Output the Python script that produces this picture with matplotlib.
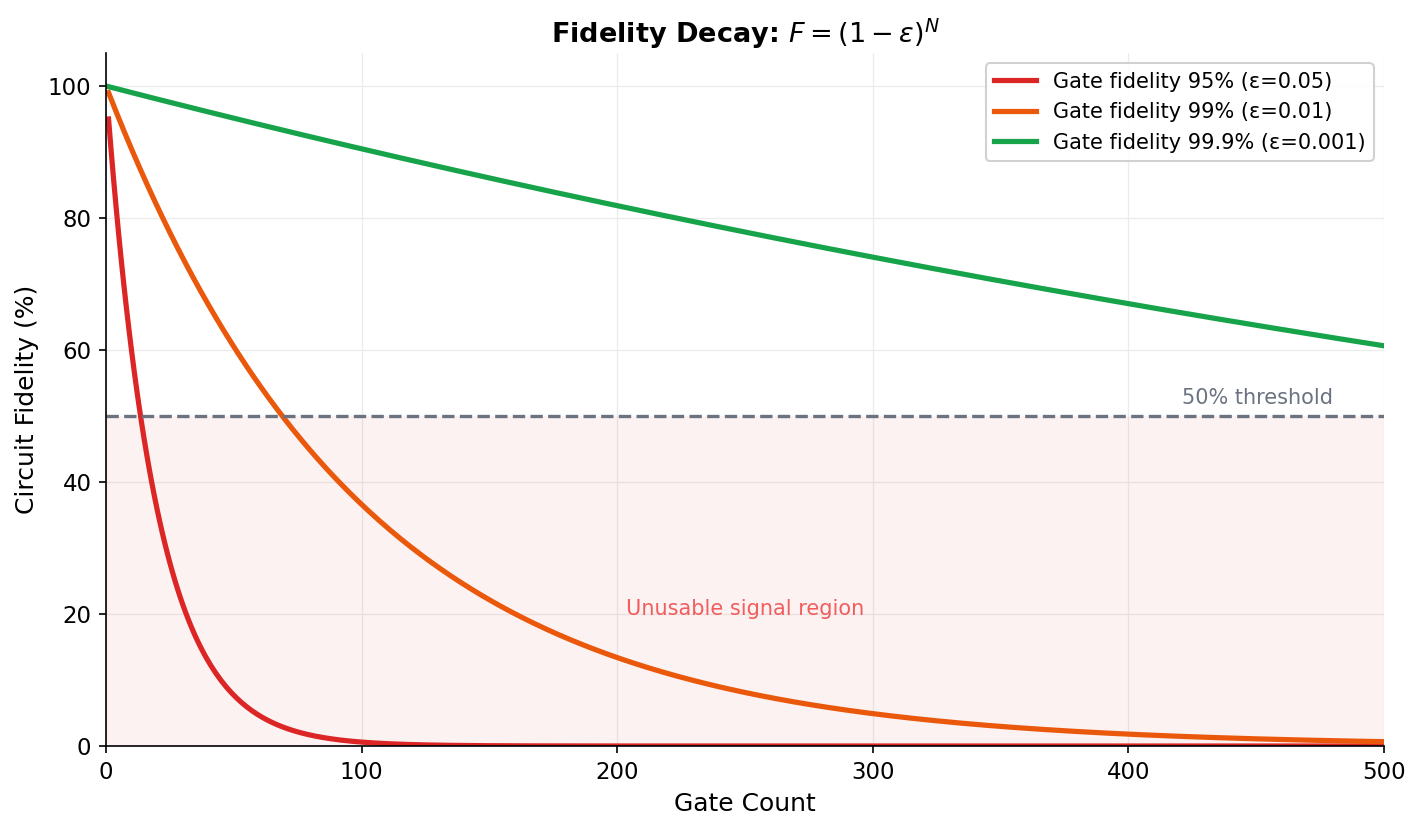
import numpy as np
import matplotlib
matplotlib.use("Agg")
import matplotlib.pyplot as plt

# Data
gate_counts = np.arange(1, 501)
epsilons = [0.05, 0.01, 0.001]
labels = ["Gate fidelity 95% (ε=0.05)", "Gate fidelity 99% (ε=0.01)", "Gate fidelity 99.9% (ε=0.001)"]
colors = ["#dc2626", "#ea580c", "#16a34a"]
threshold = 50

fig = plt.figure(figsize=(1421/150, 831/150), dpi=150)
ax = fig.add_axes([106/1421, 1-746/831, (1384-106)/1421, (746-53)/831])

ax.axhspan(0, threshold, color="#dc2626", alpha=0.06, lw=0)
for eps, lab, c in zip(epsilons, labels, colors):
    ax.plot(gate_counts, 100*(1-eps)**gate_counts, color=c, lw=2.5, label=lab)
ax.axhline(threshold, color="#6b7280", ls="--", lw=1.6)
ax.text(480, 51.2, "50% threshold", color="#6b7280", fontsize=10, ha="right", va="bottom")
ax.text(250, 20.8, "Unusable signal region", color="#ef4444", fontsize=10, ha="center", va="center", alpha=0.85)

ax.set_xlim(0, 500)
ax.set_ylim(0, 105)
ax.set_xticks([0, 100, 200, 300, 400, 500])
ax.set_yticks([0, 20, 40, 60, 80, 100])
ax.tick_params(labelsize=11)
ax.grid(True, color="#ebebeb", lw=0.6)
ax.set_axisbelow(True)
for s in ["top", "right"]:
    ax.spines[s].set_visible(False)
ax.set_xlabel("Gate Count", fontsize=12)
ax.set_ylabel("Circuit Fidelity (%)", fontsize=12)
ax.set_title(r"Fidelity Decay: $F = (1 - \varepsilon)^N$", fontsize=13, fontweight="bold", pad=5)
ax.legend(loc="upper right", fontsize=10, framealpha=0.9)

fig.savefig("out.png", dpi=150)
